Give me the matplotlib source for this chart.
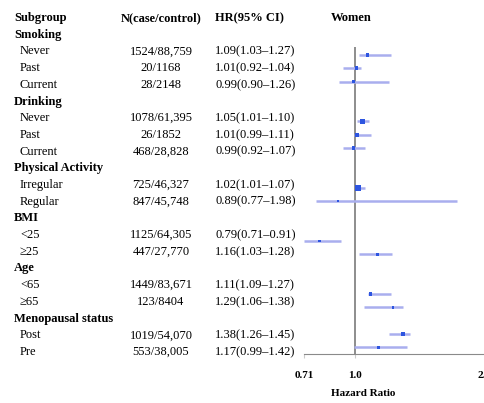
import numpy as np
import matplotlib
matplotlib.use("Agg")
from matplotlib import pyplot as plt
from matplotlib.ticker import NullLocator

# subgroup data (women)
group_names = ["Smoking", "Drinking", "Physical Activity", "BMI", "Age", "Menopausal status"]
labels = ["Never", "Past", "Current",
          "Never", "Past", "Current",
          "Irregular", "Regular",
          "<25", "\u226525",
          "<65", "\u226565",
          "Post", "Pre"]
group_of = [0, 0, 0, 1, 1, 1, 2, 2, 3, 3, 4, 4, 5, 5]
n_case_control = ["1524/88,759", "20/1168", "28/2148",
                  "1078/61,395", "26/1852", "468/28,828",
                  "725/46,327", "847/45,748",
                  "1125/64,305", "447/27,770",
                  "1449/83,671", "123/8404",
                  "1019/54,070", "553/38,005"]
hr = [1.09, 1.01, 0.99, 1.05, 1.01, 0.99, 1.02, 0.89, 0.79, 1.16, 1.11, 1.29, 1.38, 1.17]
lo = [1.03, 0.92, 0.90, 1.01, 0.99, 0.92, 1.01, 0.77, 0.71, 1.03, 1.09, 1.06, 1.26, 0.99]
hi = [1.27, 1.04, 1.26, 1.10, 1.11, 1.07, 1.07, 1.98, 0.91, 1.28, 1.27, 1.38, 1.45, 1.42]
xticks = [0.71, 1.0, 2.5]
xtick_labels = ["0.71", "1.0", "2.5"]

plt.rcParams['font.family'] = ['Liberation Serif', 'DejaVu Serif']

W, H = 484, 403
fig = plt.figure(figsize=(W / 100, H / 100), dpi=100)

# table part, drawn in pixel coordinates
tab = fig.add_axes([0, 0, 1, 1])
tab.set_xlim(0, W)
tab.set_ylim(H, 0)
tab.axis('off')

fs = 9
top = 18
row_h = 16.7
x_name, x_sub, x_n, x_hr = 14, 20, 161, 215

tab.text(x_name, top, "Subgroup", weight='bold', va='center', fontsize=fs)
tab.text(x_n, top, "N(case/control)", weight='bold', ha='center', va='center', fontsize=fs)
tab.text(x_hr, top, "HR(95% CI)", weight='bold', va='center', fontsize=fs)
tab.text(351, top, "Women", weight='bold', ha='center', va='center', fontsize=fs)

row = 1
for g, name in enumerate(group_names):
    tab.text(x_name, top + row * row_h, name, weight='bold', va='center', fontsize=fs)
    row += 1
    for i in range(len(labels)):
        if group_of[i] != g:
            continue
        y = top + row * row_h
        tab.text(x_sub, y, labels[i], va='center', fontsize=fs)
        tab.text(x_n, y, n_case_control[i], ha='center', va='center', fontsize=fs)
        tab.text(x_hr, y, "%.2f(%.2f\u2013%.2f)" % (hr[i], lo[i], hi[i]), va='center', fontsize=fs)
        row += 1

tab.text(363, 393, "Hazard Ratio", weight='bold', ha='center', va='center', fontsize=8)

# forest part: rows with a gap between groups
gaps = [3, 3, 3, 3, 2]
kpos = []
k = 0
for g in range(len(group_names)):
    for i in range(len(labels)):
        if group_of[i] == g:
            kpos.append(k)
            k += 1
    if g < len(gaps):
        k += gaps[g] - 1
kpos = np.array(kpos)

ax = fig.add_axes([304 / W, (H - 354) / H, (503 - 304) / W, (354 - 47) / H])
ax.patch.set_alpha(0)
ax.set_xscale('log')
ax.set_xlim(0.71, 2.7)
ax.set_ylim(22.5, -0.6)

ax.axvline(1.0, color='#7a7a7a', lw=1.2, zorder=1)
ax.hlines(kpos, lo, hi, color='#a9aeee', lw=1.8, zorder=2)
weight = 1.0 / (np.log(hi) - np.log(lo))
ms = 1.4 + 0.17 * weight
ax.scatter(hr, kpos, s=ms ** 2, marker='s', color='#2d55e0', zorder=3, linewidths=0)

for s in ['top', 'right', 'left']:
    ax.spines[s].set_visible(False)
ax.spines['bottom'].set_color('#8a8a8a')
ax.set_yticks([])
ax.set_xticks(xticks)
ax.set_xticklabels(xtick_labels, fontweight='bold')
ax.xaxis.set_minor_locator(NullLocator())
ax.tick_params(axis='x', color='#cccccc', length=3, labelsize=8, pad=9)
# the last label sits at the right edge, as in the original
ax.get_xticklabels()[-1].set_horizontalalignment('right')

plt.savefig("out.png", dpi=100)
